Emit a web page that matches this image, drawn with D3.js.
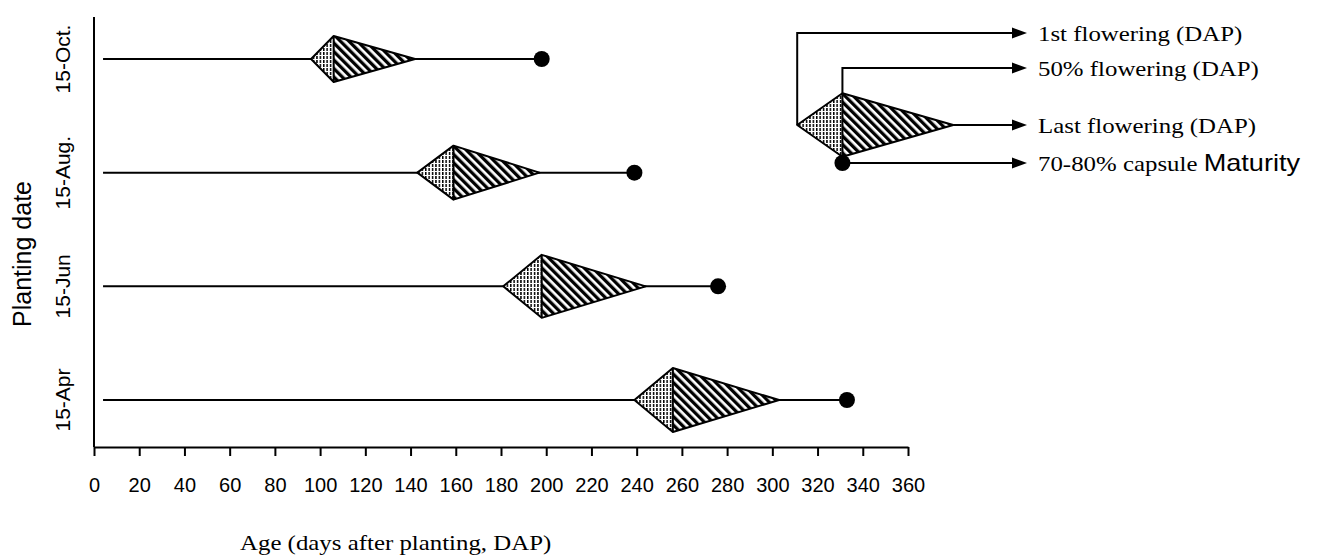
<!DOCTYPE html>
<html>
<head>
<meta charset="utf-8">
<script src="https://cdn.jsdelivr.net/npm/d3@7"></script>
<style>
	html, body { margin: 0; padding: 0; background: #fff; }
	svg { display: block; }
	.serif { font-family: "Liberation Serif", "Times New Roman", serif; }
	.sans { font-family: "Liberation Sans", Arial, sans-serif; }
</style>
</head>
<body>
<script>
// planting dates, top to bottom
var rows = ["15-Oct.", "15-Aug.", "15-Jun", "15-Apr"];
// days after planting
var lineStart = [4, 4, 4, 4];
var firstFlowering = [96, 143, 181, 239];
var fiftyFlowering = [106, 159, 198, 256];
var lastFlowering = [142, 197, 244, 303];
var capsuleMaturity = [198, 239, 276, 333];

var xTicks = [0, 20, 40, 60, 80, 100, 120, 140, 160, 180, 200, 220, 240, 260, 280, 300, 320, 340, 360];

// legend key drawn in the same day units
var keyFirst = 311, keyFifty = 331, keyLast = 380, keyMaturity = 331;
var keyLabels = ["1st flowering (DAP)", "50% flowering (DAP)", "Last flowering (DAP)", "70-80% capsule "];

var W = 1329, H = 556;
var svg = d3.select("body").append("svg").attr("width", W).attr("height", H);

var x = d3.scaleLinear().domain([0, 360]).range([94, 908]);
var y = d3.scalePoint().domain(rows).range([59, 400]);
// diamond half height follows the flowering span
var hh = d3.scaleLinear().domain([0, 100]).range([0, 50]);

// the serif text of the original is a bit wider than its height
var stretch = 1.13;

var defs = svg.append("defs");
var pv = defs.append("pattern").attr("id", "vert").attr("patternUnits", "userSpaceOnUse")
	.attr("width", 3.4).attr("height", 4);
pv.append("rect").attr("width", 3.4).attr("height", 4).attr("fill", "#fff");
pv.append("rect").attr("x", 0).attr("width", 1.5).attr("height", 3).attr("fill", "#000");

var pd = defs.append("pattern").attr("id", "diag").attr("patternUnits", "userSpaceOnUse")
	.attr("width", 6).attr("height", 6).attr("patternTransform", "rotate(-45)");
pd.append("rect").attr("width", 6).attr("height", 6).attr("fill", "#fff");
pd.append("rect").attr("width", 3.3).attr("height", 6).attr("fill", "#000");

// axes
svg.append("line").attr("x1", x(0)).attr("x2", x(0)).attr("y1", 17).attr("y2", 447)
	.attr("stroke", "#000").attr("stroke-width", 2);

var xAxis = svg.append("g").attr("transform", "translate(0,447)")
	.call(d3.axisBottom(x).tickValues(xTicks).tickSize(9).tickSizeOuter(0).tickPadding(22));
xAxis.select(".domain").attr("stroke-width", 2);
xAxis.selectAll(".tick line").attr("stroke-width", 2);
xAxis.selectAll("text").attr("class", "sans").attr("font-size", 20).attr("fill", "#000");

svg.append("text").attr("class", "serif").attr("font-size", 22)
	.attr("transform", "translate(240,550) scale(" + stretch + ",1)")
	.text("Age (days after planting, DAP)");

svg.append("text").attr("class", "sans").attr("font-size", 25)
	.attr("transform", "translate(31,254) rotate(-90)").attr("text-anchor", "middle")
	.text("Planting date");

svg.selectAll(".rowlab").data(rows).enter().append("text")
	.attr("class", "sans rowlab").attr("font-size", 21).attr("text-anchor", "middle")
	.attr("transform", function(d) { return "translate(70," + y(d) + ") rotate(-90)"; })
	.text(function(d) { return d; });

function diamond(g, a, b, c, cy, h) {
	g.append("path")
		.attr("d", "M" + a + "," + cy + "L" + b + "," + (cy - h) + "L" + b + "," + (cy + h) + "Z")
		.attr("fill", "url(#vert)");
	g.append("path")
		.attr("d", "M" + b + "," + (cy - h) + "L" + c + "," + cy + "L" + b + "," + (cy + h) + "Z")
		.attr("fill", "url(#diag)");
	g.append("path")
		.attr("d", "M" + a + "," + cy + "L" + b + "," + (cy - h) + "L" + c + "," + cy + "L" + b + "," + (cy + h) + "Z" +
			"M" + b + "," + (cy - h) + "L" + b + "," + (cy + h))
		.attr("fill", "none").attr("stroke", "#000").attr("stroke-width", 2).attr("stroke-linejoin", "round");
}

rows.forEach(function(r, i) {
	var g = svg.append("g");
	var cy = y(r);
	g.append("line").attr("x1", x(lineStart[i])).attr("x2", x(capsuleMaturity[i]))
		.attr("y1", cy).attr("y2", cy).attr("stroke", "#000").attr("stroke-width", 2);
	diamond(g, x(firstFlowering[i]), x(fiftyFlowering[i]), x(lastFlowering[i]), cy,
		hh(lastFlowering[i] - firstFlowering[i]));
	g.append("circle").attr("cx", x(capsuleMaturity[i])).attr("cy", cy).attr("r", 8).attr("fill", "#000");
});

// legend key
var key = svg.append("g");
var kcy = 125, arrowX = 1027, textX = 1038;
var kh = hh(keyLast - keyFirst) * 0.92;
var keyRowsY = [33, 68, kcy, 163];
var starts = [[x(keyFirst), kcy], [x(keyFifty), kcy - kh], [x(keyLast), kcy], [x(keyMaturity), 163]];
starts.forEach(function(s, i) {
	var ly = keyRowsY[i];
	var pts = [[s[0], s[1]], [s[0], ly], [arrowX - 14, ly]];
	key.append("path").attr("d", d3.line()(pts)).attr("fill", "none")
		.attr("stroke", "#000").attr("stroke-width", 2);
	key.append("path").attr("d", "M" + (arrowX - 15) + "," + (ly - 5.5) + "L" + arrowX + "," + ly + "L" + (arrowX - 15) + "," + (ly + 5.5) + "Z")
		.attr("fill", "#000");
	var t = key.append("text").attr("class", "serif").attr("font-size", 22)
		.attr("transform", "translate(" + textX + "," + (ly + 7.5) + ") scale(" + stretch + ",1)")
		.text(keyLabels[i]);
	if (i == 3) t.append("tspan").attr("class", "sans").attr("font-size", 24).text("Maturity");
});
diamond(key, x(keyFirst), x(keyFifty), x(keyLast), kcy, kh);
key.append("circle").attr("cx", x(keyMaturity)).attr("cy", 163).attr("r", 8).attr("fill", "#000");
</script>
</body>
</html>
